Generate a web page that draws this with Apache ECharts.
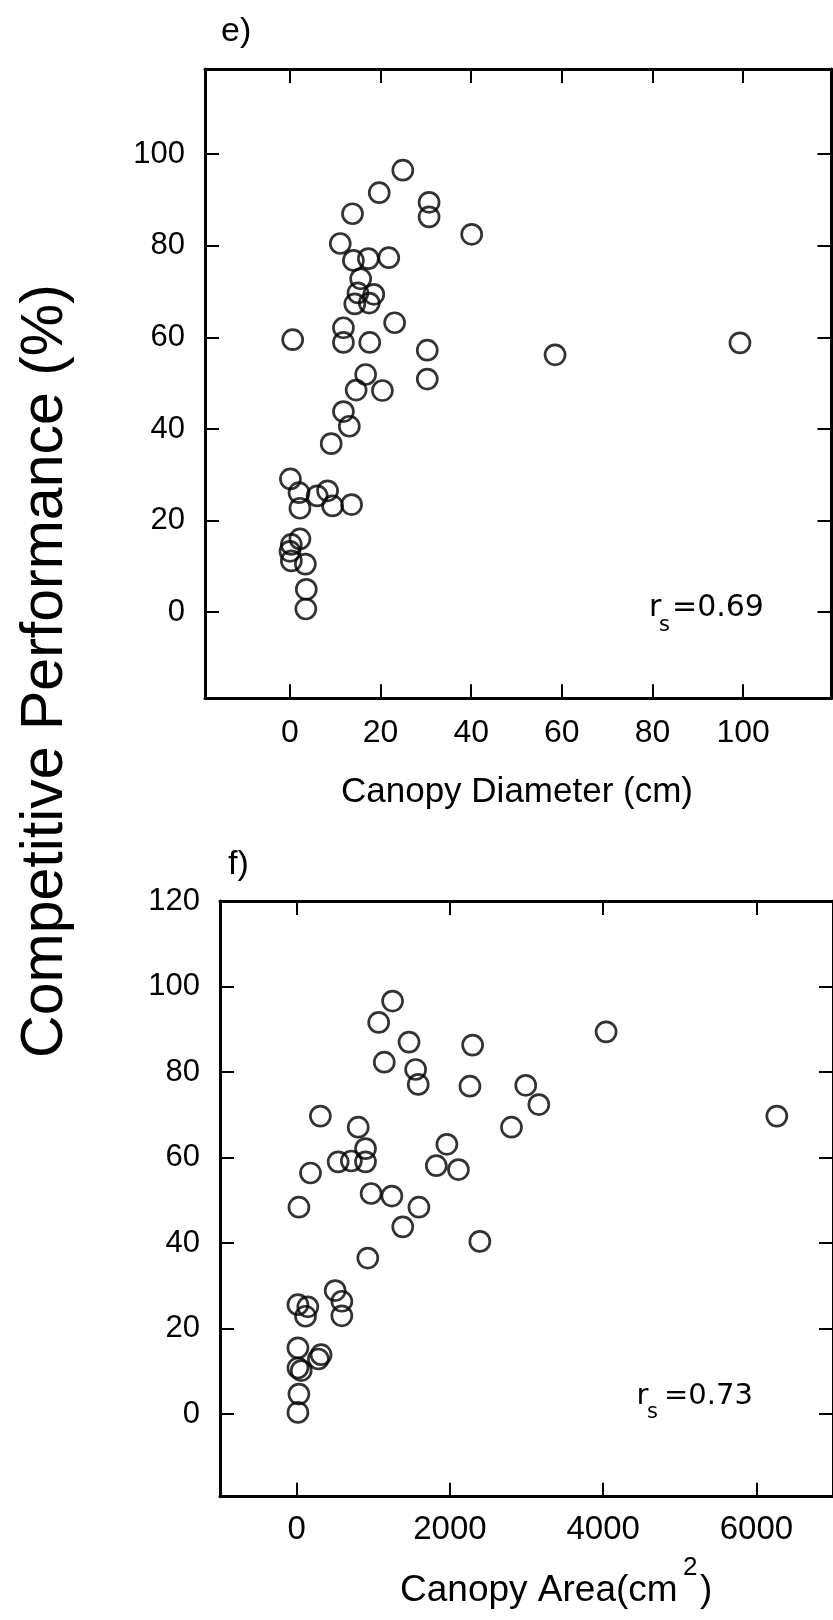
<!DOCTYPE html>
<html><head><meta charset="utf-8">
<script src="https://cdn.jsdelivr.net/npm/echarts@6/dist/echarts.min.js"></script>
<style>html,body{margin:0;padding:0;background:#fff}#c{width:833px;height:1620px}</style>
</head><body><div id="c"></div>
<script>
// Panel e: Canopy Diameter (cm) vs Competitive Performance (%)
const diamX = [24.9,19.7,30.7,30.7,13.8,40.1,11.1,14.0,17.3,21.8,15.6,15.0,18.5,14.3,17.5,23.1,11.8,11.8,17.6,0.6,30.3,30.3,16.7,14.6,20.4,11.8,13.1,9.1,0.1,2.0,2.2,6.0,8.3,9.4,13.6,2.2,0.3,0.0,0.3,3.4,3.6,3.5,58.5,99.3];
const diamY = [96.5,91.6,89.5,86.3,87.0,82.5,80.5,76.8,77.2,77.4,72.8,69.7,69.4,67.3,67.5,63.2,62.1,58.9,58.9,59.5,57.2,50.9,51.9,48.5,48.4,43.8,40.6,36.8,29.1,26.1,22.7,25.4,26.5,23.2,23.5,16.0,14.8,13.3,11.2,10.5,5.0,0.7,56.2,58.8];
// Panel f: Canopy Area (cm^2) vs Competitive Performance (%)
const areaX = [1252,1071,1467,2297,1144,1553,1587,2262,310,804,899,542,714,899,181,1961,1823,2112,972,1243,30,1596,1385,2391,929,503,590,590,17,146,116,17,319,284,17,60,30,17,4039,6267,2990,3161,2804];
const areaY = [96.6,91.6,87.0,86.3,82.3,80.6,77.1,76.7,69.7,67.1,62.1,59.0,59.2,59.0,56.4,63.1,58.1,57.2,51.6,51.0,48.4,48.4,43.8,40.4,36.5,28.9,26.4,23.0,25.6,25.1,22.9,15.5,13.9,12.9,10.8,10.2,4.7,0.4,89.4,69.7,76.9,72.4,67.1];
// tick labels
const diamTicksX = [0,20,40,60,80,100];
const diamTicksY = [0,20,40,60,80,100];
const areaTicksX = [0,2000,4000,6000];
const areaTicksY = [0,20,40,60,80,100,120];
const areaTicksYRight = [0,20,40,60,80,100];

const FONT = 'Liberation Sans';
function mkAxis(gridIndex, position, min, max, ticks, showLabel, margin, fontSize) {
  return {
    type: 'value', gridIndex, position, min, max,
    axisLine: {show: true, onZero: false, lineStyle: {color: '#000', width: 3}},
    axisTick: {show: true, inside: true, length: 14, lineStyle: {color: '#000', width: 2}, customValues: ticks},
    axisLabel: {show: showLabel, customValues: ticks, formatter: v => String(v), color: '#000', fontFamily: FONT, fontSize: fontSize || 31, margin: margin || 18},
    splitLine: {show: false}
  };
}
function pairs(xs, ys) { return xs.map((x, i) => [x, ys[i]]); }

const chart = echarts.init(document.getElementById('c'), null, {renderer: 'canvas'});
const circleStyle = {color: 'rgba(0,0,0,0)', borderColor: '#000', borderWidth: 2.7};
chart.setOption({
  animation: false,
  backgroundColor: '#fff',
  grid: [
    {left: 205, top: 69, width: 626.5, height: 629.3},
    {left: 220, top: 901, width: 619.3, height: 595.7}
  ],
  xAxis: [
    mkAxis(0, 'bottom', -18.75, 119.5, diamTicksX, true, 19, 32),
    mkAxis(0, 'top', -18.75, 119.5, diamTicksX, false),
    mkAxis(1, 'bottom', -1000, 7000, areaTicksX, true, 17, 33),
    mkAxis(1, 'top', -1000, 7000, areaTicksX, false)
  ],
  yAxis: [
    mkAxis(0, 'left', -18.8, 118.6, diamTicksY, true, 20, 31),
    mkAxis(0, 'right', -18.8, 118.6, diamTicksY, false),
    mkAxis(1, 'left', -19.3, 120, areaTicksY, true, 20, 31),
    mkAxis(1, 'right', -19.3, 120, areaTicksYRight, false)
  ],
  series: [
    {type: 'scatter', xAxisIndex: 0, yAxisIndex: 0, symbol: 'circle', symbolSize: 20, itemStyle: circleStyle, emphasis: {disabled: true}, data: pairs(diamX, diamY)},
    {type: 'scatter', xAxisIndex: 2, yAxisIndex: 2, symbol: 'circle', symbolSize: 20, itemStyle: circleStyle, emphasis: {disabled: true}, data: pairs(areaX, areaY)}
  ],
  graphic: [
    {type: 'text', x: 221, y: 32, style: {text: 'e)', font: '34px "Liberation Sans"', fill: '#000', align: 'left', verticalAlign: 'middle'}},
    {type: 'text', x: 228, y: 865, style: {text: 'f)', font: '34px "Liberation Sans"', fill: '#000', align: 'left', verticalAlign: 'middle'}},
    {type: 'text', x: 46, y: 671, rotation: Math.PI / 2, style: {text: 'Competitive Performance (%)', font: '59px "Liberation Sans"', fill: '#000', align: 'center', verticalAlign: 'middle'}},
    {type: 'text', x: 517, y: 792, style: {text: 'Canopy Diameter (cm)', font: '35px "Liberation Sans"', fill: '#000', align: 'center', verticalAlign: 'middle'}},
    {type: 'text', x: 400, y: 1591, style: {text: 'Canopy Area(cm', font: '37px "Liberation Sans"', fill: '#000', align: 'left', verticalAlign: 'middle'}},
    {type: 'text', x: 683, y: 1568, style: {text: '2', font: '26px "Liberation Sans"', fill: '#000', align: 'left', verticalAlign: 'middle'}},
    {type: 'text', x: 700, y: 1591, style: {text: ')', font: '37px "Liberation Sans"', fill: '#000', align: 'left', verticalAlign: 'middle'}},
    {type: 'text', x: 649, y: 608.5, style: {text: 'r', font: '30px "DejaVu Sans"', fill: '#000', align: 'left', verticalAlign: 'middle'}},
    {type: 'text', x: 659, y: 625.3, style: {text: 's', font: '21px "DejaVu Sans"', fill: '#000', align: 'left', verticalAlign: 'middle'}},
    {type: 'text', x: 672, y: 608.5, style: {text: '=0.69', font: '30px "DejaVu Sans"', fill: '#000', align: 'left', verticalAlign: 'middle'}},
    {type: 'text', x: 636.6, y: 1396.6, style: {text: 'r', font: '29px "DejaVu Sans"', fill: '#000', align: 'left', verticalAlign: 'middle'}},
    {type: 'text', x: 647, y: 1412.7, style: {text: 's', font: '21px "DejaVu Sans"', fill: '#000', align: 'left', verticalAlign: 'middle'}},
    {type: 'text', x: 664, y: 1396.8, style: {text: '=0.73', font: '29px "DejaVu Sans"', fill: '#000', align: 'left', verticalAlign: 'middle'}}
  ]
});
</script>
</body></html>
